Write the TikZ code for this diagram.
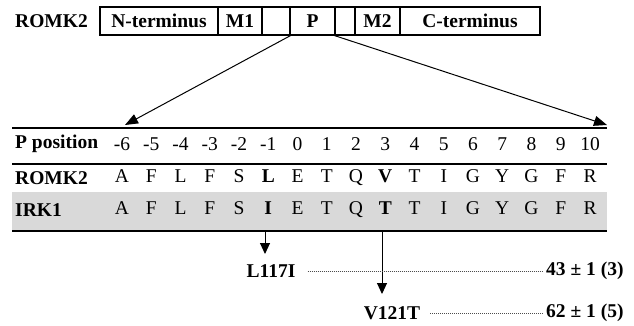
\documentclass[tikz,border=0pt]{standalone}
\usepackage{fontspec}
\setmainfont{Liberation Serif}
\usetikzlibrary{arrows.meta}
\begin{document}
\begin{tikzpicture}[x=1pt,y=-1pt,
  every node/.style={inner sep=0pt,font=\fontsize{19.5}{22}\selectfont},
  segbox/.style={draw,line width=1.1pt,minimum height=28pt,font=\fontsize{19.5}{22}\selectfont\bfseries},
  rowlabel/.style={anchor=west,font=\fontsize{19.5}{22}\selectfont\bfseries},
  bigarrow/.style={line width=1pt,-{Triangle[length=13pt,width=10pt]}},
  downarrow/.style={line width=1pt,-{Triangle[length=11pt,width=10pt]}},
  rule/.style={line width=1.8pt},
  leader/.style={line width=0.6pt,dash pattern=on 1pt off 1pt,black!70},
  mut/.style={font=\fontsize{19.5}{22}\selectfont\bfseries}]
\useasboundingbox (0,0) rectangle (634,325);
% top schematic
\node[rowlabel] (romktop) at (15,21) {ROMK2};
\node[segbox,minimum width=118pt] (nterm) at (159,21) {N-terminus};
\node[segbox,minimum width=44pt] (m1) at (240,21) {M1};
\node[segbox,minimum width=28pt] (e1) at (276,21) {};
\node[segbox,minimum width=45pt] (p) at (312.5,21) {P};
\node[segbox,minimum width=20pt] (e2) at (345,21) {};
\node[segbox,minimum width=45pt] (m2) at (377.5,21) {M2};
\node[segbox,minimum width=140pt] (cterm) at (470,21) {C-terminus};
% zoom arrows
\coordinate (lt) at (125,125);
\coordinate (rt) at (607,125);
\draw[bigarrow] (e1.south east) -- (lt);
\draw[bigarrow] (e2.south west) -- (rt);
% table
\fill[gray!30] (12,192) rectangle (607,230);
\coordinate (r1a) at (12,128); \coordinate (r1b) at (607,128);
\coordinate (r2a) at (12,164); \coordinate (r2b) at (607,164);
\coordinate (r3a) at (12,231); \coordinate (r3b) at (607,231);
\draw[rule] (r1a) -- (r1b);
\draw[rule] (r2a) -- (r2b);
\draw[rule] (r3a) -- (r3b);
\node[rowlabel] (plab) at (15,144) {P position};
\node[rowlabel] (rlab) at (15,178) {ROMK2};
\node[rowlabel] (ilab) at (15,210) {IRK1};
\foreach \i [count=\k from 0] in {-6,-5,-4,-3,-2,-1,0,1,2,3,4,5,6,7,8,9,10}
  \node (pos\k) at ({122+29.25*\k},144) {\i};
\foreach \a [count=\k from 0] in {A,F,L,F,S,\textbf{L},E,T,Q,\textbf{V},T,I,G,Y,G,F,R}
  \node (r\k) at ({122+29.25*\k},178) {\strut\a};
\foreach \a [count=\k from 0] in {A,F,L,F,S,\textbf{I},E,T,Q,\textbf{T},T,I,G,Y,G,F,R}
  \node (s\k) at ({122+29.25*\k},210) {\strut\a};
% mutations
\coordinate (d1s) at (265,231); \coordinate (d1e) at (265,254);
\coordinate (d2s) at (382,231); \coordinate (d2e) at (382,294);
\draw[downarrow] (d1s) -- (d1e);
\draw[downarrow] (d2s) -- (d2e);
\node[mut] (m117) at (271,271) {L117I};
\node[mut] (m121) at (392,313) {V121T};
\node[mut,anchor=west] (v1) at (546,271) {43 ± 1 (3)};
\node[mut,anchor=west] (v2) at (546,313) {62 ± 1 (5)};
\draw[leader] ([xshift=12pt]m117.east) -- ([xshift=-3pt]v1.west);
\draw[leader] ([xshift=10pt]m121.east) -- ([xshift=-3pt]v2.west);
\end{tikzpicture}
\end{document}
